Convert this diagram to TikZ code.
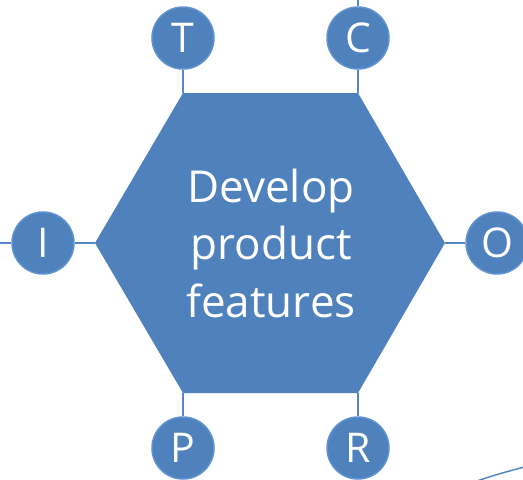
\documentclass[tikz,border=0pt]{standalone}
\usepackage{fontspec}
\setmainfont{Open Sans}
\usetikzlibrary{shapes.geometric}
\definecolor{hexfill}{RGB}{79,129,189}
\definecolor{rimblue}{RGB}{96,148,208}
\definecolor{linkblue}{RGB}{84,136,198}
\begin{document}
\begin{tikzpicture}[x=1pt,y=-1pt,
  letter/.style={circle,fill=hexfill,draw=rimblue,line width=1.5pt,minimum size=62pt,inner sep=0pt,text=white,font=\fontsize{41}{41}\selectfont},
  link/.style={draw=linkblue,line width=1.5pt}]
\useasboundingbox (0,0) rectangle (523,480);
\fill[hexfill] (183,93) coordinate (hTL) -- (358,93) coordinate (hTR) -- (445,243) coordinate (hR)
  -- (358,393) coordinate (hBR) -- (183,393) coordinate (hBL) -- (95,243) coordinate (hL) -- cycle;
\node[text=white,align=center,inner sep=0pt,font=\fontsize{44}{57.5}\selectfont] (lbl) at (271,243) {Develop\\product\\features};
\node[letter] (T) at (183,38) {T};
\node[letter] (C) at (358,38) {C};
\node[letter] (I) at (43,243) {I};
\node[letter] (O) at (497,243) {O};
\node[letter] (P) at (183,448) {P};
\node[letter] (R) at (358,448) {R};
\coordinate (ctop) at (358,0);
\coordinate (ileft) at (0,243);
\coordinate (arcA) at (477,481);
\coordinate (arcB) at (524,467);
\path[link] (T) -- (hTL);
\path[link] (C) -- (hTR);
\path[link] (C) -- (ctop);
\path[link] (I) -- (hL);
\path[link] (I) -- (ileft);
\path[link] (O) -- (hR);
\path[link] (P) -- (hBL);
\path[link] (R) -- (hBR);
\path[link] (arcA) .. controls (495,475) .. (arcB);
\end{tikzpicture}
\end{document}
